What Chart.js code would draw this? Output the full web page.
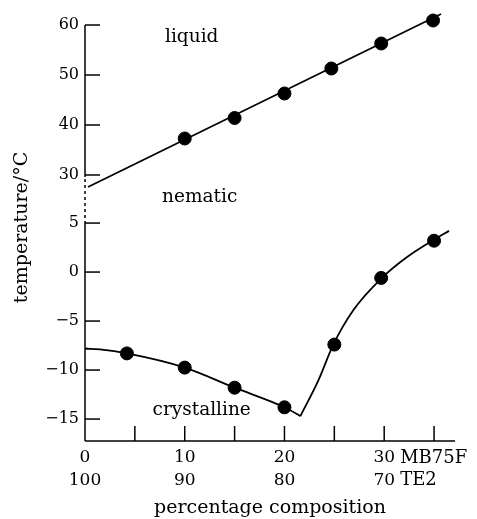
<!DOCTYPE html>
<html><head><meta charset="utf-8">
<script src="https://cdn.jsdelivr.net/npm/chart.js@4/dist/chart.umd.min.js"></script>
<style>html,body{margin:0;padding:0;background:#fff;overflow:hidden}</style>
</head><body>
<canvas id="c" width="477" height="519"></canvas>
<script>
// ---- data ----
const clearingX = [10, 15, 20, 24.7, 29.7, 34.9];
const clearingT = [37.3, 41.4, 46.3, 51.3, 56.3, 60.9];
const clearLineX = [0.3, 35.7];
const clearLineT = [27.6, 62.2];
const meltX = [4.2, 10, 15, 20, 25, 29.7, 35];
const meltT = [-8.3, -9.75, -11.8, -13.8, -7.4, -0.6, 3.2];
const leftCurveX = [0, 1.5, 4.2, 10, 15, 20, 21.6];
const leftCurveT = [-7.8, -7.9, -8.3, -9.75, -11.8, -13.8, -14.7];
const rightCurveX = [21.6, 23.4, 24.9, 26.9, 29.8, 32.3, 35.0, 36.5];
const rightCurveT = [-14.7, -11.05, -7.4, -3.9, -0.57, 1.53, 3.3, 4.2];
const upperTicks = [30, 40, 50, 60];
const lowerTicks = [5, 0, -5, -10, -15];
const xTicks = [0, 5, 10, 15, 20, 25, 30, 35];
const xLabelValues = [0, 10, 20, 30];
const xLabelsMB = ['0', '10', '20', '30'];
const xLabelsTE = ['100', '90', '80', '70'];
const phaseLabels = ['liquid', 'nematic', 'crystalline'];
const phaseX = [10.7, 11.5, 11.7];
const phaseT = [57.6, 25.5, -14.1];
const phaseAxis = ['yU', 'yU', 'yL'];

const F = "'DejaVu Serif', serif";
const pts = (xs, ys) => xs.map((x, i) => ({x, y: ys[i]}));

const upperRange = [25.13, 63.4];
const lowerRange = [-17.24, 7.42];

const decor = {
  id: 'decor',
  afterDraw(chart) {
    const ctx = chart.ctx, xs = chart.scales.x, yU = chart.scales.yU, yL = chart.scales.yL, a = chart.chartArea;
    const xa = xs.getPixelForValue(0);
    ctx.save();
    ctx.strokeStyle = '#000';
    ctx.lineWidth = 1.5;
    const seg = (x1, y1, x2, y2) => { ctx.beginPath(); ctx.moveTo(x1, y1); ctx.lineTo(x2, y2); ctx.stroke(); };
    // y axis: solid upper, dashed break, solid lower
    seg(xa, yU.getPixelForValue(upperTicks[upperTicks.length - 1]), xa, yU.getPixelForValue(upperTicks[0]) + 2);
    ctx.setLineDash([3, 3]);
    seg(xa, yU.getPixelForValue(upperTicks[0]) + 4, xa, yL.getPixelForValue(lowerTicks[0]));
    ctx.setLineDash([]);
    seg(xa, yL.getPixelForValue(lowerTicks[0]), xa, a.bottom);
    // x axis
    seg(xa, a.bottom, a.right, a.bottom);
    // inward ticks
    upperTicks.forEach(v => { const p = yU.getPixelForValue(v); seg(xa, p, xa + 15, p); });
    lowerTicks.forEach(v => { const p = yL.getPixelForValue(v); seg(xa, p, xa + 15, p); });
    xTicks.forEach(v => { if (v === 0) return; const p = xs.getPixelForValue(v); seg(p, a.bottom, p, a.bottom - 15); });
    // phase labels
    ctx.fillStyle = '#000';
    ctx.font = '18.5px ' + F;
    ctx.textAlign = 'center';
    ctx.textBaseline = 'middle';
    phaseLabels.forEach((t, i) => {
      const sc = chart.scales[phaseAxis[i]];
      ctx.fillText(t, xs.getPixelForValue(phaseX[i]), sc.getPixelForValue(phaseT[i]));
    });
    // component names beside the last x label
    ctx.font = '18px ' + F;
    ctx.textAlign = 'left';
    const lh = 17 * 1.3;
    const lx = xs.getPixelForValue(30) + 16;
    ctx.fillText('MB75F', lx, xs.top + 6 + lh / 2);
    ctx.fillText('TE2', lx, xs.top + 6 + lh * 1.5);
    // y title
    ctx.font = '19px ' + F;
    ctx.textAlign = 'center';
    ctx.translate(22, (a.top + a.bottom) / 2 + 3);
    ctx.rotate(-Math.PI / 2);
    ctx.fillText('temperature/\u00B0C', 0, 0);
    ctx.restore();
  }
};

const yCommon = (ticksArr) => ({
  type: 'linear',
  position: 'left',
  stack: 'temp',
  grid: {display: false, drawTicks: false},
  border: {display: false},
  afterBuildTicks: s => { s.ticks = ticksArr.map(v => ({value: v})); },
  afterFit: s => { s.width = 85; s.paddingTop = 0; s.paddingBottom = 0; },
  ticks: {
    padding: 6, color: '#000', font: {family: F, size: 16},
    callback: v => v < 0 ? '\u2212' + Math.abs(v) : String(v)
  }
});

const chart = new Chart(document.getElementById('c'), {
  type: 'scatter',
  data: {
    datasets: [
      {data: pts(clearLineX, clearLineT), yAxisID: 'yU', showLine: true, pointRadius: 0, borderColor: '#000', borderWidth: 1.8},
      {data: pts(clearingX, clearingT), yAxisID: 'yU', showLine: false, pointRadius: 6.5, backgroundColor: '#000', borderColor: '#000'},
      {data: pts(leftCurveX, leftCurveT), yAxisID: 'yL', showLine: true, cubicInterpolationMode: 'monotone', pointRadius: 0, borderColor: '#000', borderWidth: 1.8},
      {data: pts(rightCurveX, rightCurveT), yAxisID: 'yL', showLine: true, cubicInterpolationMode: 'monotone', pointRadius: 0, borderColor: '#000', borderWidth: 1.8},
      {data: pts(meltX, meltT), yAxisID: 'yL', showLine: false, pointRadius: 6.5, backgroundColor: '#000', borderColor: '#000'}
    ]
  },
  options: {
    responsive: false,
    animation: false,
    devicePixelRatio: 1,
    layout: {padding: {top: 8, right: 22, bottom: 0, left: 0}},
    plugins: {legend: {display: false}, tooltip: {enabled: false}},
    scales: {
      x: {
        type: 'linear', min: 0, max: 37.1, position: 'bottom',
        grid: {display: false, drawTicks: false},
        border: {display: false},
        afterBuildTicks: s => { s.ticks = xTicks.map(v => ({value: v})); },
        afterFit: s => { s.height = 78; s.paddingLeft = 0; s.paddingRight = 0; },
        ticks: {
          padding: 6, color: '#000', maxRotation: 0, autoSkip: false,
          font: {family: F, size: 17, lineHeight: 1.3},
          callback: v => { const i = xLabelValues.indexOf(v); return i < 0 ? '' : [xLabelsMB[i], xLabelsTE[i]]; }
        },
        title: {display: true, text: 'percentage composition', color: '#000', font: {family: F, size: 19, lineHeight: 1.2}, padding: {top: 0, bottom: 0}}
      },
      yL: Object.assign(yCommon(lowerTicks), {min: lowerRange[0], max: lowerRange[1], stackWeight: (lowerRange[1] - lowerRange[0]) * 9.8}),
      yU: Object.assign(yCommon(upperTicks), {min: upperRange[0], max: upperRange[1], stackWeight: (upperRange[1] - upperRange[0]) * 5.0})
    }
  },
  plugins: [decor]
});
</script>
</body></html>
